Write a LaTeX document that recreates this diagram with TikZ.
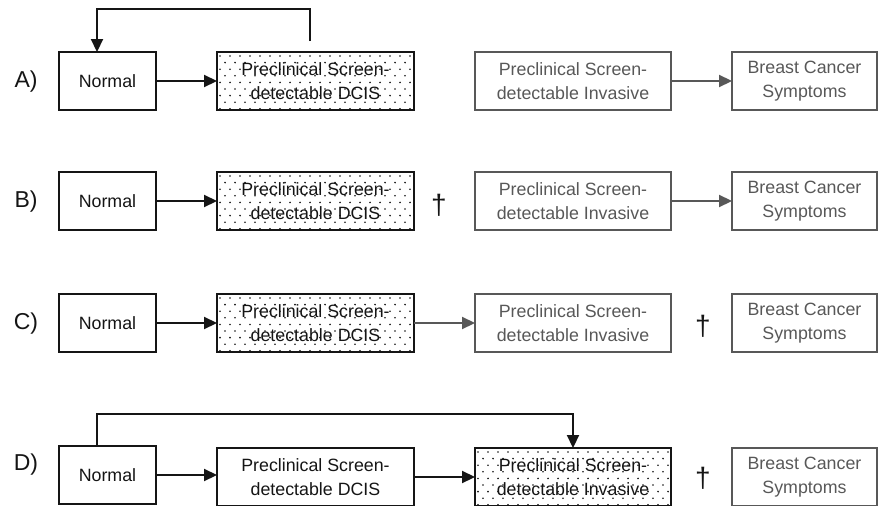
\documentclass[tikz,border=0pt]{standalone}
\usepackage{fontspec}
\setmainfont{Liberation Sans}
\usetikzlibrary{arrows.meta}
\definecolor{gr}{HTML}{585858}
\definecolor{blk}{HTML}{151515}
\newcommand\mydots[4]{%
  \begin{scope}
    \clip (#1+2,#2+2) rectangle (#3-2,#4-2);
    \foreach \j in {0,...,9}{%
      \foreach \i in {0,...,20}{%
        \fill[blk] ({#1+4+\i*10+mod(\j,2)*5},{#2+4+\j*6.6}) circle (0.9pt);
      }%
    }%
  \end{scope}}
\begin{document}
\begin{tikzpicture}[x=1pt,y=-1pt,
  box/.style={draw=blk,line width=2.2pt,text=blk,minimum height=58pt,inner sep=0pt,outer sep=0pt,align=center,font=\fontsize{17.8}{24.5}\selectfont},
  gbox/.style={box,draw=gr,text=gr},
  dbox/.style={box,line width=2.7pt},
  arr/.style={line width=2.2pt,draw=blk,-{Triangle[length=13pt,width=12pt]}},
  garr/.style={line width=2.2pt,draw=gr,-{Triangle[length=13pt,width=12pt,fill=gr]}},
  lab/.style={font=\fontsize{23}{23}\selectfont,text=blk},
  dag/.style={font=\fontsize{28}{28}\selectfont,text=blk}]
\useasboundingbox (0,0) rectangle (879,506);
% Row A
\node[box,minimum width=97pt] (nA) at (107.5,81) {Normal};
\mydots{216}{52}{415}{110}
\node[dbox,minimum width=197pt] (dA) at (315.5,81) {Preclinical Screen-\\detectable DCIS};
\node[gbox,minimum width=196pt] (iA) at (573,81) {Preclinical Screen-\\detectable Invasive};
\node[gbox,minimum width=145pt] (sA) at (804.5,81) {Breast Cancer\\Symptoms};
\node[lab] (lA) at (26,82) {A)};
\draw[arr] (nA) -- (dA);
\draw[garr] (iA) -- (sA);
\coordinate (fA) at (310,41);
\draw[arr] (fA) -- (fA |- 0,9) -| ([xshift=-10.5pt]nA.north);
% Row B
\node[box,minimum width=97pt] (nB) at (107.5,201) {Normal};
\mydots{216}{172}{415}{230}
\node[dbox,minimum width=197pt] (dB) at (315.5,201) {Preclinical Screen-\\detectable DCIS};
\node[gbox,minimum width=196pt] (iB) at (573,201) {Preclinical Screen-\\detectable Invasive};
\node[gbox,minimum width=145pt] (sB) at (804.5,201) {Breast Cancer\\Symptoms};
\node[lab] (lB) at (26,202) {B)};
\node[dag] (tB) at (439,205) {†};
\draw[arr] (nB) -- (dB);
\draw[garr] (iB) -- (sB);
% Row C
\node[box,minimum width=97pt] (nC) at (107.5,323) {Normal};
\mydots{216}{294}{415}{352}
\node[dbox,minimum width=197pt] (dC) at (315.5,323) {Preclinical Screen-\\detectable DCIS};
\node[gbox,minimum width=196pt] (iC) at (573,323) {Preclinical Screen-\\detectable Invasive};
\node[gbox,minimum width=145pt] (sC) at (804.5,323) {Breast Cancer\\Symptoms};
\node[lab] (lC) at (26,324) {C)};
\node[dag] (tC) at (703,326) {†};
\draw[arr] (nC) -- (dC);
\draw[garr] (dC) -- (iC);
% Row D
\node[box,minimum width=97pt] (nD) at (107.5,475) {Normal};
\node[box,minimum width=197pt] (dD) at (315.5,477) {Preclinical Screen-\\detectable DCIS};
\mydots{474}{448}{672}{506}
\node[dbox,minimum width=196pt] (iD) at (573,477) {Preclinical Screen-\\detectable Invasive};
\node[gbox,minimum width=145pt] (sD) at (804.5,477) {Breast Cancer\\Symptoms};
\node[lab] (lD) at (26,465) {D)};
\node[dag] (tD) at (703,478) {†};
\draw[arr] (nD.east) -- (nD.east -| dD.west);
\draw[arr] (dD.east) -- (dD.east -| iD.west);
\draw[arr] ([xshift=-10.5pt]nD.north) -- ++(0,-32) -| (iD.north);
\end{tikzpicture}
\end{document}
